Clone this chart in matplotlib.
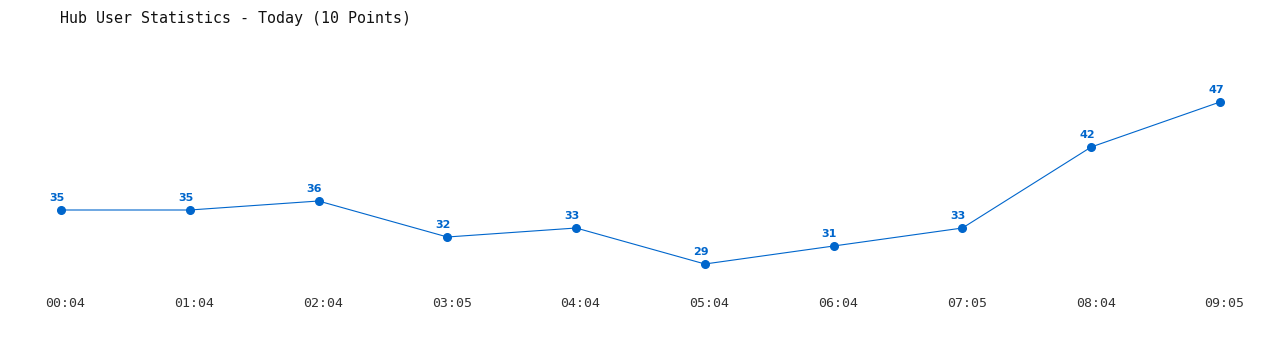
import matplotlib
matplotlib.use("Agg")
import matplotlib.pyplot as plt
import matplotlib.transforms as mtrans

# Data
times = ["00:04", "01:04", "02:04", "03:05", "04:04",
         "05:04", "06:04", "07:05", "08:04", "09:05"]
users = [35, 35, 36, 32, 33, 29, 31, 33, 42, 47]

BLUE = "#0066cc"
W, H = 1280, 350

fig = plt.figure(figsize=(W / 100, H / 100), dpi=100)
# axes placed so the first/last points sit where the reference has them
ax = fig.add_axes([61 / W, (H - 290) / H, (1220 - 61) / W, 260 / H])

x = list(range(len(users)))
ax.plot(x, users, color=BLUE, linewidth=0.8, marker="o", markersize=5.5,
        clip_on=False)

for xi, v in zip(x, users):
    ax.annotate(str(v), (xi, v), xytext=(-3, 5), textcoords="offset points",
                ha="center", va="bottom", color=BLUE, fontsize=8,
                fontweight="bold", family="DejaVu Sans")

ax.set_xlim(0, len(users) - 1)
ax.set_ylim(35 - 80 / 9, 55)
ax.set_xticks(x)
ax.set_xticklabels(times, family="DejaVu Sans Mono", fontsize=9.5, color="#333333")
ax.tick_params(axis="x", length=0, pad=5)
# the reference's time labels sit a few pixels right of each point
shift = mtrans.ScaledTranslation(4.5 / 100, 0, fig.dpi_scale_trans)
for lab in ax.get_xticklabels():
    lab.set_transform(lab.get_transform() + shift)
ax.set_yticks([])
for side in ax.spines.values():
    side.set_visible(False)

fig.text(60 / W, 1 - 18 / H, "Hub User Statistics - Today (10 Points)",
         family="DejaVu Sans Mono", fontsize=10.8, color="#111111",
         ha="left", va="center")

fig.savefig("out.png", dpi=100, facecolor="white")
